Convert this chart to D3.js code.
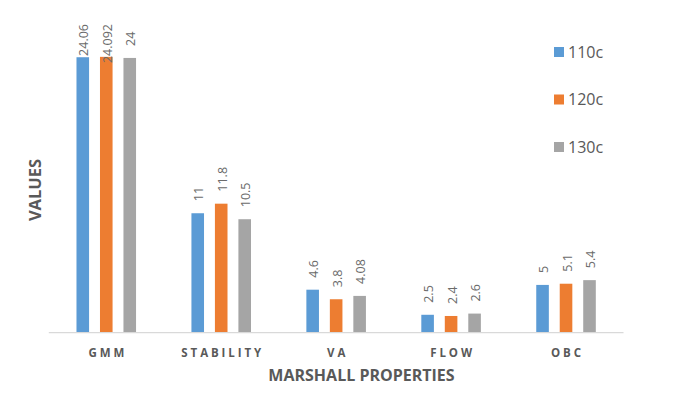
<!DOCTYPE html>
<html>
<head>
<meta charset="utf-8">
<script src="https://cdn.jsdelivr.net/npm/d3@7"></script>
<style>
  body { margin: 0; background: #fff; }
  svg { display: block; }
</style>
</head>
<body>
<script>
// data
var categories = ['GMM', 'STABILITY', 'VA', 'FLOW', 'OBC'];
var seriesNames = ['110c', '120c', '130c'];
var values110 = [24.06, 11, 4.6, 2.5, 5];
var values120 = [24.092, 11.8, 3.8, 2.4, 5.1];
var values130 = [24, 10.5, 4.08, 2.6, 5.4];
var colors = ['#5B9BD5', '#ED7D31', '#A5A5A5'];

var width = 682, height = 397;
var plot = { left: 48.8, right: 623.5, top: 46, bottom: 332.7 };

var allValues = [values110, values120, values130];

var svg = d3.select('body').append('svg')
  .attr('width', width)
  .attr('height', height);

var x0 = d3.scaleBand()
  .domain(categories)
  .range([plot.left, plot.right])
  .paddingInner(0.387)
  .paddingOuter(0.1935);

var x1 = d3.scaleBand()
  .domain(seriesNames)
  .range([0, x0.bandwidth()])
  .paddingInner(0.464)
  .paddingOuter(0.232);

var y = d3.scaleLinear()
  .domain([1, 25])
  .range([plot.bottom, plot.top]);

// bars
var groups = svg.selectAll('g.grp')
  .data(categories)
  .enter().append('g')
  .attr('class', 'grp')
  .attr('transform', function(d) { return 'translate(' + x0(d) + ',0)'; });

groups.selectAll('rect')
  .data(function(d, i) {
    return seriesNames.map(function(s, j) { return { s: s, j: j, v: allValues[j][i] }; });
  })
  .enter().append('rect')
  .attr('x', function(d) { return x1(d.s); })
  .attr('width', x1.bandwidth())
  .attr('y', function(d) { return y(d.v); })
  .attr('height', function(d) { return plot.bottom - y(d.v); })
  .attr('fill', function(d) { return colors[d.j]; });

// value labels, rotated
groups.selectAll('text.val')
  .data(function(d, i) {
    return seriesNames.map(function(s, j) { return { s: s, j: j, v: allValues[j][i] }; });
  })
  .enter().append('text')
  .attr('class', 'val')
  .text(function(d) { return d.v; })
  .attr('font-family', 'Open Sans, sans-serif')
  .attr('font-size', 12.5)
  .attr('fill', '#6b6b6b')
  .attr('dy', '0.36em')
  .attr('transform', function(d) {
    var len = this.getComputedTextLength();
    var yy = Math.max(y(d.v) - 12, 24 + len);
    return 'translate(' + (x1(d.s) + x1.bandwidth() / 2 + 1) + ',' + yy + ') rotate(-90)';
  });

// x axis line
svg.append('line')
  .attr('x1', plot.left).attr('x2', plot.right)
  .attr('y1', plot.bottom).attr('y2', plot.bottom)
  .attr('stroke', '#D9D9D9')
  .attr('stroke-width', 1.3);

// category labels
svg.selectAll('text.cat')
  .data(categories)
  .enter().append('text')
  .attr('class', 'cat')
  .attr('x', function(d) { return x0(d) + x0.bandwidth() / 2 + 1.5; })
  .attr('y', 357)
  .attr('text-anchor', 'middle')
  .attr('font-family', 'Open Sans, sans-serif')
  .attr('font-weight', 'bold')
  .attr('font-size', 11.5)
  .attr('letter-spacing', 2.9)
  .attr('fill', '#595959')
  .text(function(d) { return d; });

// axis titles
svg.append('text')
  .attr('x', 361.5).attr('y', 381)
  .attr('text-anchor', 'middle')
  .attr('font-family', 'Open Sans, sans-serif')
  .attr('font-weight', 'bold')
  .attr('font-size', 16)
  .attr('fill', '#595959')
  .text('MARSHALL PROPERTIES');

svg.append('text')
  .attr('transform', 'translate(40.5,190) rotate(-90)')
  .attr('text-anchor', 'middle')
  .attr('font-family', 'Open Sans, sans-serif')
  .attr('font-weight', 'bold')
  .attr('font-size', 16.5)
  .attr('fill', '#595959')
  .text('VALUES');

// legend
var legend = svg.selectAll('g.leg')
  .data(seriesNames)
  .enter().append('g')
  .attr('class', 'leg')
  .attr('transform', function(d, i) { return 'translate(554,' + (47 + i * 47.5) + ')'; });

legend.append('rect')
  .attr('width', 10).attr('height', 10)
  .attr('fill', function(d, i) { return colors[i]; });

legend.append('text')
  .attr('x', 14).attr('y', 10.5)
  .attr('font-family', 'Open Sans, sans-serif')
  .attr('font-size', 16)
  .attr('fill', '#595959')
  .text(function(d) { return d; });
</script>
</body>
</html>
